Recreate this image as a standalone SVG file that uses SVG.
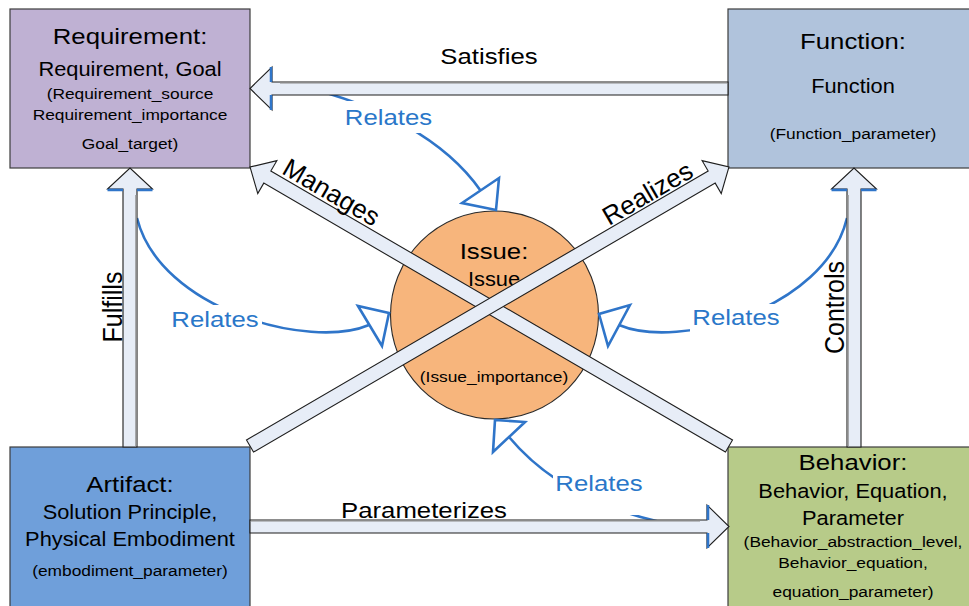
<svg xmlns="http://www.w3.org/2000/svg" width="969" height="606" viewBox="0 0 969 606">
  <style>
    .box{stroke:#3c3c3c;stroke-width:1.2}
    .t{font-family:"Liberation Sans",Arial,sans-serif;fill:#000;text-anchor:middle}
    .h{font-size:23px}
    .m{font-size:19.5px}
    .s{font-size:15.5px}
    .lbl{font-size:23px}
    .vl{font-size:25px}
    .dl{font-size:26px}
    .rel{font-family:"Liberation Sans",Arial,sans-serif;font-size:23px;fill:#2A77C9;text-anchor:middle}
    .arrow{fill:#E7EDF7;stroke:#1e1e1e;stroke-width:1.1;stroke-linejoin:miter}
    .acc{fill:none;stroke:#2F75C9;stroke-width:2.5}
    .shade{fill:none;stroke:#8a8a8a;stroke-width:1.8}
    .curve{fill:none;stroke:#2F75C9;stroke-width:2.6}
    .tri{fill:#fff;stroke:#2F75C9;stroke-width:2.6;stroke-linejoin:miter}
    .gap{fill:#fff}
  </style>

  <!-- nodes -->
  <g id="requirement">
    <rect class="box" x="10" y="9" width="240" height="159" fill="#BFB1D3"/>
    <text class="t h" transform="translate(130,44) scale(1.12,1)">Requirement:</text>
    <text class="t m" transform="translate(130,76) scale(1.12,1)">Requirement, Goal</text>
    <text class="t s" transform="translate(130,99) scale(1.12,1)">(Requirement_source</text>
    <text class="t s" transform="translate(130,120) scale(1.12,1)">Requirement_importance</text>
    <text class="t s" transform="translate(130,149) scale(1.12,1)">Goal_target)</text>
  </g>

  <g id="function">
    <rect class="box" x="728" y="9" width="250" height="159" fill="#B0C3DC"/>
    <text class="t h" transform="translate(853,49) scale(1.12,1)">Function:</text>
    <text class="t m" transform="translate(853,93) scale(1.12,1)">Function</text>
    <text class="t s" transform="translate(853,139) scale(1.12,1)">(Function_parameter)</text>
  </g>

  <g id="artifact">
    <rect class="box" x="10" y="447" width="240" height="170" fill="#6F9FDA"/>
    <text class="t h" transform="translate(130,492) scale(1.12,1)">Artifact:</text>
    <text class="t m" transform="translate(130,519) scale(1.12,1)">Solution Principle,</text>
    <text class="t m" transform="translate(130,546) scale(1.12,1)">Physical Embodiment</text>
    <text class="t s" transform="translate(130,576) scale(1.12,1)">(embodiment_parameter)</text>
  </g>

  <g id="behavior">
    <rect class="box" x="728" y="447" width="250" height="170" fill="#B7CB89"/>
    <text class="t h" transform="translate(853,470) scale(1.12,1)">Behavior:</text>
    <text class="t m" transform="translate(853,498) scale(1.12,1)">Behavior, Equation,</text>
    <text class="t m" transform="translate(853,525) scale(1.12,1)">Parameter</text>
    <text class="t s" transform="translate(853,547) scale(1.12,1)">(Behavior_abstraction_level,</text>
    <text class="t s" transform="translate(853,568) scale(1.12,1)">Behavior_equation,</text>
    <text class="t s" transform="translate(853,597) scale(1.12,1)">equation_parameter)</text>
  </g>

  <g id="issue">
    <circle cx="494.5" cy="315" r="104" fill="#F7B57C" stroke="#2a2a2a" stroke-width="1.1"/>
    <text class="t h" transform="translate(494,259) scale(1.12,1)">Issue:</text>
    <text class="t m" transform="translate(494,286) scale(1.12,1)">Issue</text>
    <text class="t s" transform="translate(494,382) scale(1.12,1)">(Issue_importance)</text>
  </g>

  <!-- connectors -->
  <g id="connectors">
    <!-- "Relates" curves to the issue -->
    <g id="relates">
      <path class="curve" d="M300,86 C380,105 445,140 480.5,190.5"/>
      <path class="curve" d="M137,218 C160,310 310,350 369,325"/>
      <path class="curve" d="M847,218 C825,310 678,350 619,325"/>
      <path class="curve" d="M509,437 C545,480 600,510 670,524"/>

      <rect class="gap" x="343" y="101" width="92" height="32"/>
      <rect class="gap" x="170" y="305" width="92" height="29"/>
      <rect class="gap" x="690" y="304" width="92" height="28"/>
      <rect class="gap" x="553" y="469" width="92" height="46"/>

      <polygon class="tri" points="462,203 499,178 496,210"/>
      <polygon class="tri" points="358,306 382,346 389,313"/>
      <polygon class="tri" points="630,305 608,346 599,314"/>
      <polygon class="tri" points="493,452 525,422 495,420"/>

      <text class="rel" transform="translate(388.5,125) scale(1.12,1)">Relates</text>
      <text class="rel" transform="translate(215,327) scale(1.12,1)">Relates</text>
      <text class="rel" transform="translate(736,325) scale(1.12,1)">Relates</text>
      <text class="rel" transform="translate(599,491) scale(1.12,1)">Relates</text>
    </g>

    <!-- Satisfies: Function to Requirement -->
    <g id="satisfies">
      <path class="arrow" d="M728,82 L272,82 L272,67 L250,88.5 L272,110 L272,95 L728,95 Z"/>
      <path class="shade" d="M280,82.6 L727,82.6"/>
      <path class="acc" d="M271,67 L271,82 M271,95 L271,110"/>
      <text class="t lbl" transform="translate(489,64) scale(1.12,1)">Satisfies</text>
    </g>

    <!-- Parameterizes: Artifact to Behavior -->
    <g id="parameterizes">
      <path class="arrow" d="M250,520 L707,520 L707,505 L729,526.5 L707,548 L707,533 L250,533 Z"/>
      <path class="shade" d="M251,520.6 L700,520.6"/>
      <path class="acc" d="M708,505 L708,520 M708,533 L708,548"/>
      <text class="t lbl" transform="translate(424,518) scale(1.12,1)">Parameterizes</text>
    </g>

    <!-- Fulfills: Artifact to Requirement -->
    <g id="fulfills">
      <path class="arrow" d="M123,447 L123,189 L107.5,189 L130,168 L152.5,189 L137,189 L137,447 Z"/>
      <path class="shade" d="M136.2,195 L136.2,446"/>
      <path class="acc" d="M107.5,190 L123,190 M137,190 L152.5,190"/>
      <text class="t vl" transform="translate(122,307) scale(1.12,1) rotate(-90)">Fulfills</text>
    </g>

    <!-- Controls: Behavior to Function -->
    <g id="controls">
      <path class="arrow" d="M847,447 L847,189 L831.5,189 L854,168 L876.5,189 L861,189 L861,447 Z"/>
      <path class="shade" d="M847.8,195 L847.8,446"/>
      <path class="acc" d="M831.5,190 L847,190 M861,190 L876.5,190"/>
      <text class="t vl" transform="translate(844,307.5) scale(1.12,1) rotate(-90)">Controls</text>
    </g>

    <!-- Manages: Behavior to Requirement -->
    <g id="manages">
      <path class="arrow" transform="translate(729,446) rotate(210.22)" d="M0,-7 L534.3,-7 L534.3,-19 L554.3,0 L534.3,19 L534.3,7 L0,7 Z"/>
      <text class="t dl" transform="translate(327,200) rotate(30.22)">Manages</text>
    </g>

    <!-- Realizes: Artifact to Function -->
    <g id="realizes">
      <path class="arrow" transform="translate(250,446) rotate(-30.22)" d="M0,-7 L534.3,-7 L534.3,-19 L554.3,0 L534.3,19 L534.3,7 L0,7 Z"/>
      <text class="t dl" transform="translate(652,201) rotate(-30.22)">Realizes</text>
    </g>
  </g>
</svg>
